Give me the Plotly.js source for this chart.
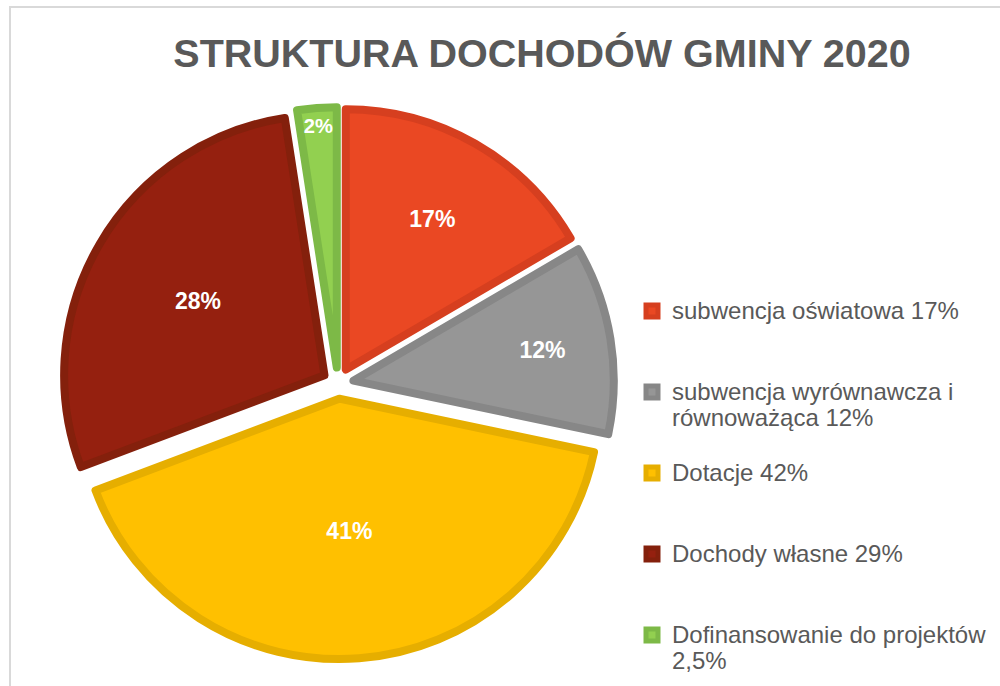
<!DOCTYPE html>
<html>
<head>
<meta charset="utf-8">
<script src="https://cdn.plot.ly/plotly-3.0.1.min.js"></script>
<style>
  html, body { margin: 0; padding: 0; background: #fff; }
  #frame { position: absolute; left: 9px; top: 6px; width: 1000px; height: 700px;
           border-left: 2px solid #d9d9d9; border-top: 2px solid #d9d9d9; }
  #chart { position: absolute; left: 0; top: 0; width: 1000px; height: 686px; }
</style>
</head>
<body>
<div id="frame"></div>
<div id="chart"></div>
<script>
// dane: struktura dochodów gminy 2020
var categories = [
    'subwencja oświatowa 17%',
    'subwencja wyrównawcza i<br>równoważąca 12%',
    'Dotacje 42%',
    'Dochody własne 29%',
    'Dofinansowanie do projektów<br>2,5%'
];
var shares = [17, 12, 42, 29, 2.5];
var fillColors = ['#EA4823', '#969696', '#FFC000', '#95200F', '#92D050'];
var edgeColors = ['#D63F1F', '#878787', '#E6AE00', '#84200C', '#7DB947'];

// legenda: rozstaw wpisów jak w oryginale (puste linie jako odstęp)
function legendLabel(name, last) {
    var parts = name.split('<br>');
    var txt = parts.map(function (p) { return '<span style="font-size:24px">' + p + '</span>'; }).join('<br>');
    if (!last) {
        for (var i = parts.length; i < 3; i++) txt += '<br>\u00a0';
    }
    return txt;
}
var labels = categories.map(function (c, i) { return legendLabel(c, i === categories.length - 1); });

var trace = {
    type: 'pie',
    labels: labels,
    values: shares,
    sort: false,
    direction: 'clockwise',
    rotation: 0,
    pull: 0.06,
    marker: { colors: fillColors, line: { color: edgeColors, width: 8 } },
    texttemplate: '%{percent:.0%}',
    textposition: 'inside',
    insidetextorientation: 'horizontal',
    textfont: { family: 'Liberation Sans, Arial, sans-serif', size: 23, color: '#ffffff', weight: 'bold' },
    domain: { x: [0.062, 0.614], y: [0.038, 0.845] },
    hoverinfo: 'label+percent'
};

var layout = {
    width: 1000,
    height: 686,
    margin: { l: 0, r: 0, t: 0, b: 0 },
    paper_bgcolor: 'rgba(0,0,0,0)',
    title: {
        text: '<b>STRUKTURA DOCHODÓW GMINY 2020</b>',
        x: 0.542, xanchor: 'center',
        y: 0.922, yanchor: 'middle', yref: 'container',
        font: { family: 'Liberation Sans, Arial, sans-serif', size: 39.5, color: '#595959' }
    },
    showlegend: true,
    legend: {
        x: 0.632, xanchor: 'left',
        y: 0.575, yanchor: 'top',
        valign: 'top',
        font: { family: 'Liberation Sans, Arial, sans-serif', size: 20, color: '#595959' },
        bgcolor: 'rgba(0,0,0,0)'
    }
};

Plotly.newPlot('chart', [trace], layout, { displayModeBar: false });
</script>
</body>
</html>
